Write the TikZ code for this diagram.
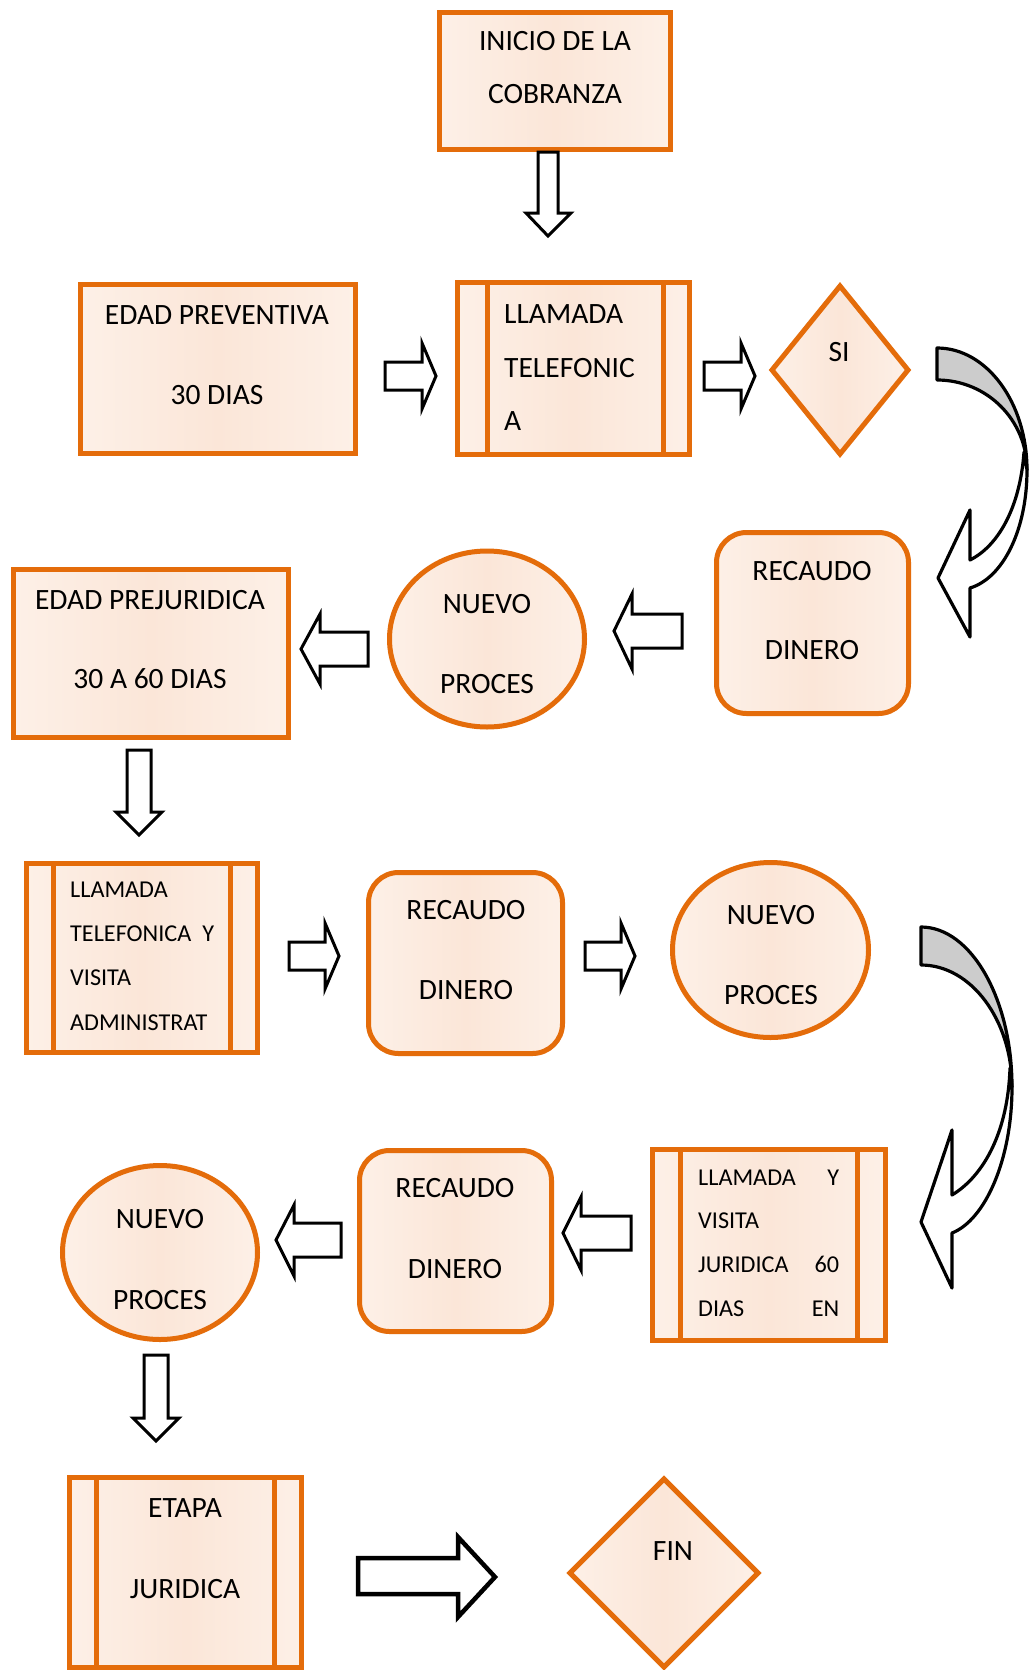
\documentclass[tikz,border=0pt]{standalone}
\usepackage{fontspec}
\setmainfont{Carlito}
\definecolor{bord}{HTML}{E46C0A}
\definecolor{fa}{HTML}{FDF0E7}
\definecolor{fb}{HTML}{FBE6D8}
\definecolor{backgrey}{HTML}{CCCCCC}
\tikzset{
  shp/.style={draw=bord, line width=5pt, left color=fa, right color=fa, middle color=fb},
  inl/.style={draw=bord, line width=5pt},
  blk/.style={draw=black, line width=3pt, fill=white, line join=miter},
  bigblk/.style={draw=black, line width=4.5pt, fill=white, line join=miter},
  curv/.style={draw=black, line width=3.2pt, line join=round},
  txt/.style={font=\fontsize{29.5}{35}\selectfont, anchor=base, inner sep=0pt},
  stxt/.style={font=\fontsize{24.2}{29}\selectfont, anchor=base west, inner sep=0pt},
}
\begin{document}
\begin{tikzpicture}[x=1pt,y=-1pt]
\useasboundingbox (0,0) rectangle (1028,1670);
\fill[white] (0,0) rectangle (1028,1670);

% ---------- INICIO ----------
\path[shp] (439.5,12.5) rectangle (670.5,149.5);
\node[txt] (t1a) at (555,51) {INICIO DE LA};
\node[txt] (t1b) at (555,103) {COBRANZA};
\path[blk] (538,152) -- (538,213) -- (526,213) -- (548,236) -- (571,213) -- (558,213) -- (558,152) -- cycle;

% ---------- Row 2 ----------
\path[shp] (80.5,284.5) rectangle (355.5,453.5);
\node[txt] (t2a) at (217,324) {EDAD PREVENTIVA};
\node[txt] (t2b) at (217,404) {30 DIAS};
\path[blk] (385,362) -- (422,362) -- (422,343) -- (436,376) -- (422,409) -- (422,390) -- (385,390) -- cycle;

\path[shp] (457.5,282.5) rectangle (689.5,454.5);
\draw[inl] (487,282.5) -- (487,454.5);
\draw[inl] (663,282.5) -- (663,454.5);
\node[txt, anchor=base west] (t3a) at (504,323) {LLAMADA};
\node[txt, anchor=base west] (t3b) at (504,377) {TELEFONIC};
\node[txt, anchor=base west] (t3c) at (504,430) {A};
\path[blk] (704,362) -- (741,362) -- (741,343) -- (755,376) -- (741,409) -- (741,390) -- (704,390) -- cycle;

\path[shp] (840,286) -- (908,370) -- (840,454) -- (772,370) -- cycle;
\node[txt] (tsi) at (839,361) {SI};

% curved arrow 1
\path[curv, fill=backgrey] (937,348) .. controls (987,348) and (1027,403) .. (1027,470)
   .. controls (1027,420) and (987,380) .. (937,380) -- cycle;
\path[curv, fill=white] (1027,470) .. controls (1027,530) and (1003,578) .. (970,588)
   -- (970,637) -- (938,578) -- (970,510) -- (970,560)
   .. controls (998,546) and (1020,508) .. (1024,452) -- cycle;

% ---------- Row 3 ----------
\path[shp, rounded corners=30pt] (716.5,532.5) rectangle (908.5,713.5);
\node[txt] (t4a) at (812,580) {RECAUDO};
\node[txt] (t4b) at (812,659) {DINERO};
\path[blk] (682,614) -- (632,614) -- (632,594) -- (614,631) -- (632,669) -- (632,648) -- (682,648) -- cycle;

\path[shp] (487,639) ellipse [x radius=97.5, y radius=88];
\node[txt] (t5a) at (487,613) {NUEVO};
\node[txt] (t5b) at (487,693) {PROCES};
\path[blk] (368,632) -- (320,632) -- (320,614) -- (301,649) -- (320,684) -- (320,666) -- (368,666) -- cycle;

\path[shp] (13.5,569.5) rectangle (288.5,737.5);
\node[txt] (t6a) at (150,609) {EDAD PREJURIDICA};
\node[txt] (t6b) at (150,688) {30 A 60 DIAS};
\path[blk] (127,750) -- (127,812) -- (116,812) -- (139,835) -- (162,812) -- (151,812) -- (151,750) -- cycle;

% ---------- Row 4 ----------
\path[shp] (26.5,863.5) rectangle (257.5,1052.5);
\draw[inl] (53,863.5) -- (53,1052.5);
\draw[inl] (230,863.5) -- (230,1052.5);
\node[stxt] (t7a) at (70,897) {LLAMADA};
\node[stxt] (t7b) at (70,941) {TELEFONICA\ \ Y};
\node[stxt] (t7c) at (70,985) {VISITA};
\node[stxt] (t7d) at (70,1030) {ADMINISTRAT};
\path[blk] (289,942) -- (325,942) -- (325,923) -- (339,956) -- (325,989) -- (325,970) -- (289,970) -- cycle;

\path[shp, rounded corners=30pt] (368.5,872.5) rectangle (562.5,1053.5);
\node[txt] (t8a) at (466,919) {RECAUDO};
\node[txt] (t8b) at (466,999) {DINERO};
\path[blk] (585,942) -- (621,942) -- (621,923) -- (635,956) -- (621,989) -- (621,970) -- (585,970) -- cycle;

\path[shp] (770.5,950) ellipse [x radius=98, y radius=87.5];
\node[txt] (t9a) at (771,924) {NUEVO};
\node[txt] (t9b) at (771,1004) {PROCES};

% curved arrow 2
\path[curv, fill=backgrey] (921,927) .. controls (971,927) and (1012,999) .. (1012,1087)
   .. controls (1012,1020) and (971,965) .. (921,965) -- cycle;
\path[curv, fill=white] (1012,1087) .. controls (1012,1160) and (985,1220) .. (952,1233)
   -- (952,1288) -- (921,1222) -- (952,1130) -- (952,1195)
   .. controls (985,1175) and (1008,1130) .. (1010,1068) -- cycle;

% ---------- Row 5 ----------
\path[shp] (652.5,1149.5) rectangle (885.5,1340.5);
\draw[inl] (680,1149.5) -- (680,1340.5);
\draw[inl] (857,1149.5) -- (857,1340.5);
\node[stxt] (t10a) at (698,1185) {\makebox[141pt]{LLAMADA\hfill Y}};
\node[stxt] (t10b) at (698,1228) {VISITA};
\node[stxt] (t10c) at (698,1272) {\makebox[141pt]{JURIDICA\hfill 60}};
\node[stxt] (t10d) at (698,1316) {\makebox[141pt]{DIAS\hfill EN}};
\path[blk] (631,1216) -- (581,1216) -- (581,1197) -- (563,1233) -- (581,1270) -- (581,1250) -- (631,1250) -- cycle;

\path[shp, rounded corners=30pt] (359.5,1150.5) rectangle (551.5,1331.5);
\node[txt] (t11a) at (455,1197) {RECAUDO};
\node[txt] (t11b) at (455,1278) {DINERO};
\path[blk] (341,1223) -- (294,1223) -- (294,1205) -- (276,1240) -- (294,1276) -- (294,1257) -- (341,1257) -- cycle;

\path[shp] (160,1252.5) ellipse [x radius=97.5, y radius=87];
\node[txt] (t12a) at (160,1228) {NUEVO};
\node[txt] (t12b) at (160,1309) {PROCES};
\path[blk] (144,1355) -- (144,1418) -- (133,1418) -- (156,1441) -- (179,1418) -- (168,1418) -- (168,1355) -- cycle;

% ---------- Row 6 ----------
\path[shp] (69.5,1477.5) rectangle (301.5,1667.5);
\draw[inl] (96,1477.5) -- (96,1667.5);
\draw[inl] (274,1477.5) -- (274,1667.5);
\node[txt] (t13a) at (185,1517) {ETAPA};
\node[txt] (t13b) at (185,1598) {JURIDICA};
\path[bigblk] (358,1558) -- (458,1558) -- (458,1537) -- (495,1577) -- (458,1617) -- (458,1594) -- (358,1594) -- cycle;

\path[shp] (664,1479) -- (758,1573) -- (664,1667) -- (570,1573) -- cycle;
\node[txt] (tfin) at (673,1560) {FIN};
\end{tikzpicture}
\end{document}
